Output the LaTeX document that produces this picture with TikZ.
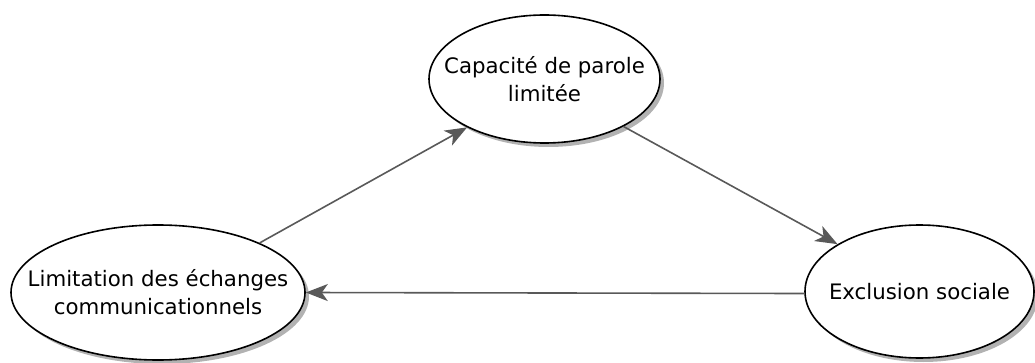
\documentclass[tikz,border=0pt]{standalone}
\usepackage{fontspec}
\setmainfont{DejaVu Sans}
\usetikzlibrary{arrows.meta,shadows,shapes.geometric}
\begin{document}
\begin{tikzpicture}[x=1pt,y=-1pt,
  bubble/.style={ellipse, draw=black, line width=1.6pt, fill=white, inner sep=0pt,
    drop shadow={shadow xshift=4pt, shadow yshift=-4pt, fill=black!30, opacity=1}},
  txt/.style={align=center, inner sep=0pt, font=\fontsize{21.3}{28}\selectfont},
  link/.style={draw=black!65, line width=1.6pt, -{Stealth[length=22pt,width=17pt,inset=6pt]}}]
\useasboundingbox (0,0) rectangle (1035,363);
\node[bubble, minimum width=231pt, minimum height=128pt] (T) at (544.5,79) {};
\node[txt] (Tt) at (T) {Capacité de parole\\limitée};
\node[bubble, minimum width=294pt, minimum height=135pt] (L) at (158,292.5) {};
\node[txt] (Lt) at (L) {Limitation des échanges\\communicationnels};
\node[bubble, minimum width=229pt, minimum height=133pt] (R) at (919.5,291.5) {};
\node[txt] (Rt) at (R) {Exclusion sociale};
\draw[link] (L.26.8) -- (T.212);
\draw[link] (T.-31) -- (R.150);
\draw[link] (R.181.75) -- (L.-0.97);
\end{tikzpicture}
\end{document}
